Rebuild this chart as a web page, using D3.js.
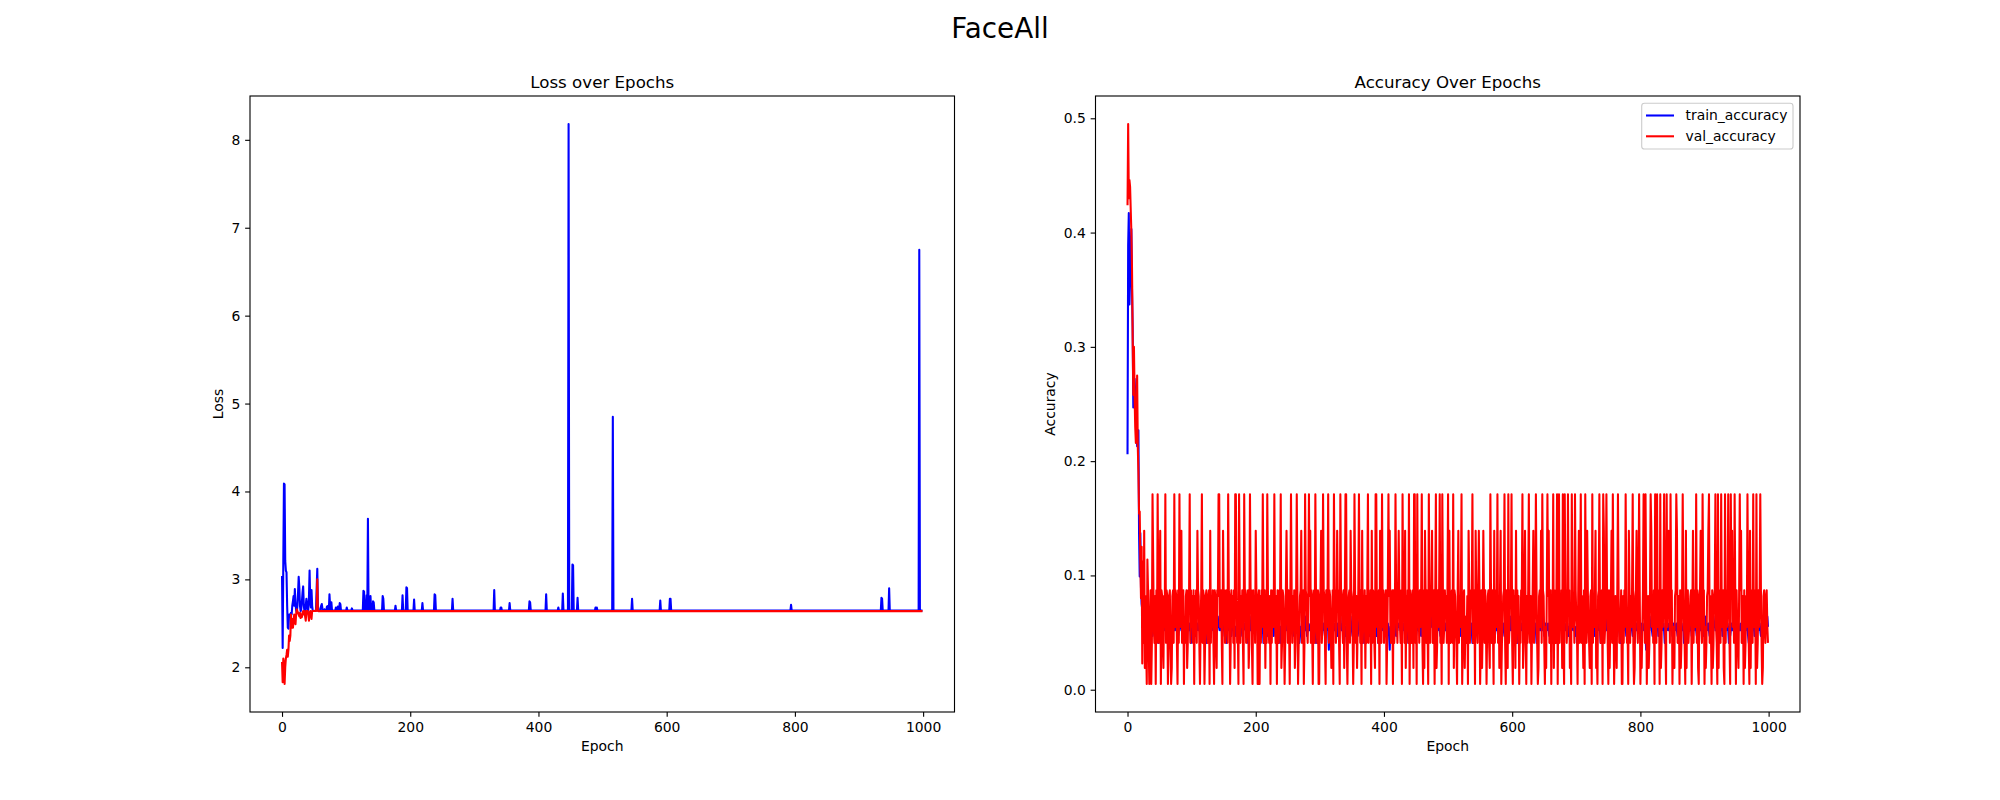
<!DOCTYPE html>
<html>
<head>
<meta charset="utf-8">
<script src="https://cdn.jsdelivr.net/npm/d3@7"></script>
<style>
body { margin: 0; background: #fff; }
svg { font-family: "DejaVu Sans", sans-serif; }
</style>
</head>
<body>
<svg id="chart" width="2000" height="800"></svg>
<script>
/* global d3 */

const N_EPOCHS = 1000;
const TRAIN_LOSS_PLATEAU = 2.645;
const VAL_LOSS_PLATEAU = 2.639;

// train loss, epochs 0..64
const trainLossHead = [
    3.04, 2.22, 3.20, 4.09, 4.08, 3.21, 3.10, 3.08, 2.70, 2.45,
    2.44, 2.60, 2.60, 2.58, 2.62, 2.60, 2.70, 2.75, 2.81, 2.70,
    2.89, 2.72, 2.65, 2.62, 2.70, 2.85, 3.03, 2.90, 2.70, 2.64,
    2.66, 2.75, 2.85, 2.92, 2.70, 2.64, 2.65, 2.70, 2.78, 2.70,
    2.64, 2.66, 2.80, 3.10, 2.75, 2.68, 2.88, 2.70, 2.64, 2.64,
    2.64, 2.64, 2.64, 2.66, 2.90, 3.12, 2.70, 2.64, 2.64, 2.64,
    2.66, 2.70, 2.72, 2.67, 2.64
];
// later train loss spikes above the plateau: [epoch, loss]
const trainLossSpikes = [
    [66, 2.66], [70, 2.69], [72, 2.70], [74, 2.83], [75, 2.70], [77, 2.74],
    [84, 2.68], [87, 2.69], [90, 2.73], [91, 2.72], [101, 2.68], [109, 2.67],
    [127, 2.87], [128, 2.86], [130, 2.75], [132, 2.82], [134, 3.69], [136, 2.80],
    [138, 2.81], [142, 2.75], [143, 2.74], [157, 2.81], [158, 2.78], [177, 2.70],
    [188, 2.82], [194, 2.91], [195, 2.90], [206, 2.77], [219, 2.73], [238, 2.83],
    [239, 2.82], [266, 2.78], [331, 2.88], [341, 2.68], [342, 2.68], [355, 2.73],
    [386, 2.75], [387, 2.74], [412, 2.83], [431, 2.68], [438, 2.84], [447, 8.18],
    [453, 3.17], [454, 3.16], [461, 2.79], [489, 2.68], [491, 2.68], [516, 4.85],
    [546, 2.78], [590, 2.76], [605, 2.78], [606, 2.78], [794, 2.71], [935, 2.79],
    [936, 2.78], [947, 2.90], [994, 6.75]
];
// val loss, epochs 0..56, afterwards on the plateau
const valLossHead = [
    2.06, 1.83, 2.10, 2.05, 1.81, 2.00, 2.10, 2.14, 2.20, 2.12,
    2.20, 2.36, 2.30, 2.36, 2.60, 2.45, 2.55, 2.45, 2.52, 2.60,
    2.55, 2.49, 2.60, 2.66, 2.64, 2.62, 2.60, 2.58, 2.62, 2.56,
    2.60, 2.57, 2.62, 2.64, 2.60, 2.64, 2.58, 2.53, 2.64, 2.62,
    2.64, 2.60, 2.53, 2.62, 2.64, 2.60, 2.55, 2.64, 2.64, 2.64,
    2.64, 2.64, 2.64, 2.64, 2.70, 3.00, 2.64
];

// accuracy, epochs 0..24
const trainAccHead = [
    0.206, 0.389, 0.417, 0.337, 0.360, 0.390, 0.403, 0.350, 0.317, 0.247,
    0.260, 0.272, 0.260, 0.254, 0.240, 0.213, 0.220, 0.227, 0.137, 0.099,
    0.137, 0.090, 0.075, 0.070, 0.065
];
const valAccHead = [
    0.424, 0.495, 0.430, 0.446, 0.440, 0.420, 0.400, 0.368, 0.310, 0.258,
    0.300, 0.258, 0.230, 0.216, 0.250, 0.275, 0.213, 0.190, 0.154, 0.156,
    0.112, 0.080, 0.125, 0.023, 0.112
];
// accuracy levels seen from epoch 25 on, one letter per epoch
const trainAccLevels = { p: 0.035, q: 0.041, r: 0.047, s: 0.052, t: 0.055, u: 0.058, v: 0.064, w: 0.072 };
const valAccLevels = { a: 0.005, b: 0.019, c: 0.041, d: 0.055, e: 0.064, f: 0.082, g: 0.087, h: 0.114, i: 0.139, j: 0.171 };

const trainAccTail = [
    'utvsutwtsu tsuvrtsutv stuqtsutrs utsvtsurts tusrtuvtsu',
    'tsutrsuvts utsrtsuvts tsutqstuts urtsutsvtu tsurtstuqt',
    'sutrtusvts tsurtsutvs tusrtsutsq tusvtsurts utstrsuvts',
    'tsutrstuts utsqrtusvt sutsrtuvts tusrtsuqts utsvrtsutu',
    'tsurtsutsv tusqtsrtus utvstsurts tusrtsutvs tsuqrtsuts',
    'utsvtrsuts tusrtsuvtq sutsrtuvts tusrtsutsp tusvtrsuts',
    'tsurtsuvts tusqtrsuts utsvtsrtus tsutrsuvts utsrqtsuvt',
    'sutrtsuvts tusrtsqtus utsvtsurts tusrptsuts utvsrtsutu',
    'tsurtsutvs tusqrtsuts utsvtrsuts tusrtsuvts tsuqrtsutw',
    'utsvtrsuts tusrtsuvts sutsrtqvts tusrtsutsv tusvtrsupt',
    'tsurtsuvts tusqtrsuts utsvtsrtus tsutrsuvts utsrqtsuvt',
    'sutrtsuvts tusrtsqtus utsvtsurts tusrqtsuts utvsrtsutu',
    'tsurtsutvs tusqrtsuts utsvtrsuts tusrtsuvts tsuqrtsuts',
    'utsvtrsuts tusrtsuvtw sutsrtqvts tusrtsutsv tusvtrsuqt',
    'tsurtsuvts tusqtrsuts utsvtsrtus tsutrsuvts utsrqtsuvt',
    'sutrtsuvts tusrtsqtus utsvtsurts tusrptsuts utvsrtsutu',
    'tsurtsutvs tusqrtsuts utsvtrsuts tusrtsuvts tsuqrtsuts',
    'utsvtrsuts tusrtsuvts sutsrtqvts tusrtsutsv tusvtrsuts',
    'tsurtsuvts tusqtrsuts utsvtsrtus tsutrsuvts utsrqtsuvt',
    'sutrtsuvts tusrtsqtus utsvt'
];
const valAccTail = [
    'cibfcahgca dgacjhdcfa gcjfcgiagf cbfdjcgfac fgcabfgcjd',
    'gfcagcjdgi cfgaecfgbc gfjcgdfcga fdgcigfcad gjcgfacfgd',
    'cfgaicfdgc agfcbgfjjd fgcaifgcdg fcjgfacgdf cgbjjgcdaj',
    'gcfdgcajfg cdfgbcjfgc agdfcigfaa gafcgdjfcg bfcjgdcfag',
    'cfgdjecfag dcgfjbcgfd acgifcgdaf jgcfdgbcfj gacdfgicfg',
    'acjgfdcgjf icgdafgcjf dcgaafgicd jgfcagdfjc gfdbcgajfg',
    'cdifgcajgf dcgbfjjcad fgcigfdacj gcfbdgjfcg aicfdgbfcg',
    'jcfdgaicgf cbjjdfcgai fcjdgcefga cgjfidcfga gcdjfecgif',
    'dcgajfgcib fdgcjagfcd gbjjcgajdf cgdfjcagbi fcgdajfcgf',
    'icdgafjbcg dfjcgajfcd gefcgjaidc fgcjbgfdca gicfdgjacf',
    'gbdecfaigc dgfjcdgaif dcgifacgbd ifcgeadfgc bjfcgdaicf',
    'gdjcfbgiac dfgjcagfbj cdgfjcagdf bicgefadcg fjbcgidafc',
    'gjdcfadgic dfjgcabfgd icjgfcadbg jficdgafcj bgdcfjagjc',
    'fdgbjcajfg cdjfgbcajg dfcjgedafi cgjcfdbgaj fcigdcbfga',
    'jcfdgibcaf gjdcfgajic dgjfcagbdf icjgacfdbg jfcedgaafc',
    'gdjfcdaigc fdgjcabfgi dcgjfacbdg jfcjgadfbc gjidfcgajf',
    'cjdgfajbcg dfjgcajdfi gcjfgadcbf gjicdfagbc fjgdcaibfg',
    'cdefgaeicg fdjcgbafgi dcjfgadbcf gijcfdagbc fgjdcajbfg',
    'cjdfgbajcg dfjgcajfid gcjfagdcbf jgicdfagbc fdjgcaibfg',
    'cjdgfajbcg dfjgcabfgd cfgdc'
];

const decode = (lines, levels) => Array.from(lines.join('').replace(/ /g, ''), c => levels[c]);

const spikeMap = new Map(trainLossSpikes);
const trainLoss = d3.range(N_EPOCHS).map(i =>
    i < trainLossHead.length ? trainLossHead[i] : (spikeMap.has(i) ? spikeMap.get(i) : TRAIN_LOSS_PLATEAU));
const valLoss = d3.range(N_EPOCHS).map(i =>
    i < valLossHead.length ? valLossHead[i] : VAL_LOSS_PLATEAU);
const trainAcc = trainAccHead.concat(decode(trainAccTail, trainAccLevels));
const valAcc = valAccHead.concat(decode(valAccTail, valAccLevels));

// figure layout (matplotlib 20x8in @100dpi, 1x2 subplots)
const svg = d3.select('#chart');
const FS = 13.9;
const axTop = 96, axBottom = 712;
const panels = [
    { left: 250, right: 954.5, title: 'Loss over Epochs', ylabel: 'Loss',
      series: [trainLoss, valLoss], yTicks: d3.range(2, 9), yFmt: d3.format('d'), ylabelX: 218 },
    { left: 1095.5, right: 1800, title: 'Accuracy Over Epochs', ylabel: 'Accuracy',
      series: [trainAcc, valAcc], yTicks: d3.range(0, 0.51, 0.1), yFmt: d3.format('.1f'), ylabelX: 1050,
      legend: ['train_accuracy', 'val_accuracy'] }
];
const colors = ['#0000ff', '#ff0000'];

svg.append('rect').attr('width', 2000).attr('height', 800).attr('fill', '#fff');

svg.append('text')
    .attr('x', 1000).attr('y', 37.5)
    .attr('text-anchor', 'middle')
    .attr('font-size', 27.8)
    .text('FaceAll');

const padded = (lo, hi) => { const m = (hi - lo) * 0.05; return [lo - m, hi + m]; };

panels.forEach(p => {
    const n = d3.max(p.series, s => s.length);
    const x = d3.scaleLinear().domain(padded(0, n - 1)).range([p.left, p.right]);
    const y = d3.scaleLinear()
        .domain(padded(d3.min(p.series, s => d3.min(s)), d3.max(p.series, s => d3.max(s))))
        .range([axBottom, axTop]);

    const g = svg.append('g');

    const line = d3.line().x((d, i) => x(i)).y(d => y(d));
    p.series.forEach((s, k) => {
        g.append('path')
            .datum(s)
            .attr('d', line)
            .attr('fill', 'none')
            .attr('stroke', colors[k])
            .attr('stroke-width', 2.08)
            .attr('stroke-linejoin', 'round');
    });

    const xAxis = g.append('g')
        .attr('transform', `translate(0,${axBottom})`)
        .call(d3.axisBottom(x).tickValues(d3.range(0, 1001, 200)).tickFormat(d3.format('d'))
            .tickSize(4.86).tickPadding(4.86).tickSizeOuter(0));
    const yAxis = g.append('g')
        .attr('transform', `translate(${p.left},0)`)
        .call(d3.axisLeft(y).tickValues(p.yTicks).tickFormat(p.yFmt)
            .tickSize(4.86).tickPadding(4.86).tickSizeOuter(0));
    [xAxis, yAxis].forEach(a => {
        a.select('.domain').remove();
        a.selectAll('line').attr('stroke', '#000').attr('stroke-width', 1.11);
        a.selectAll('text').attr('font-size', FS).attr('fill', '#000')
            .attr('font-family', '"DejaVu Sans", sans-serif');
    });

    g.append('rect')
        .attr('x', p.left).attr('y', axTop)
        .attr('width', p.right - p.left).attr('height', axBottom - axTop)
        .attr('fill', 'none').attr('stroke', '#000').attr('stroke-width', 1.11);

    const cx = (p.left + p.right) / 2;
    g.append('text')
        .attr('x', cx).attr('y', axTop - 8.3)
        .attr('text-anchor', 'middle')
        .attr('font-size', 16.67)
        .text(p.title);
    g.append('text')
        .attr('x', cx).attr('y', 751)
        .attr('text-anchor', 'middle')
        .attr('font-size', FS)
        .text('Epoch');
    g.append('text')
        .attr('transform', `translate(${p.ylabelX},${(axTop + axBottom) / 2}) rotate(-90)`)
        .attr('text-anchor', 'middle')
        .attr('dy', '0.35em')
        .attr('font-size', FS)
        .text(p.ylabel);

    if (p.legend) {
        const lg = g.append('g');
        lg.append('rect')
            .attr('x', 1641.7).attr('y', 103.3)
            .attr('width', 151.3).attr('height', 45.7)
            .attr('rx', 2.8)
            .attr('fill', '#fff').attr('fill-opacity', 0.8)
            .attr('stroke', '#cccccc').attr('stroke-width', 1.11);
        p.legend.forEach((name, k) => {
            const ly = 115.5 + k * 20.8;
            lg.append('line')
                .attr('x1', 1646).attr('x2', 1674)
                .attr('y1', ly).attr('y2', ly)
                .attr('stroke', colors[k]).attr('stroke-width', 2.08);
            lg.append('text')
                .attr('x', 1685.5).attr('y', ly)
                .attr('dy', '0.35em')
                .attr('font-size', FS)
                .text(name);
        });
    }
});
</script>
</body>
</html>
